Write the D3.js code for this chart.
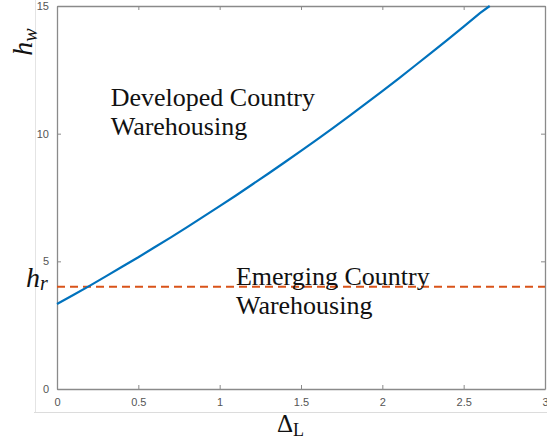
<!DOCTYPE html>
<html>
<head>
<meta charset="utf-8">
<script src="https://cdn.jsdelivr.net/npm/d3@7"></script>
<style>
  body { margin: 0; background: #fff; }
  svg { display: block; }
</style>
</head>
<body>
<svg id="chart" width="547" height="442"></svg>
<script>
// Threshold curve h_w(Δ_L) separating the two warehousing regimes
const deltaL = [0, 0.1, 0.2, 0.3, 0.4, 0.5, 0.6, 0.7, 0.8, 0.9, 1.0, 1.1, 1.2, 1.3,
                1.4, 1.5, 1.6, 1.7, 1.8, 1.9, 2.0, 2.1, 2.2, 2.3, 2.4, 2.5, 2.6, 2.66];
const hw = [3.33, 3.68, 4.04, 4.41, 4.79, 5.16, 5.55, 5.94, 6.34, 6.75, 7.16, 7.58, 8.01, 8.44,
            8.88, 9.33, 9.78, 10.24, 10.71, 11.19, 11.67, 12.16, 12.66, 13.16, 13.67, 14.19, 14.72, 15.0];
// Reference level h_r
const hr = 4;

const xTicks = [0, 0.5, 1, 1.5, 2, 2.5, 3];
const xTickLabels = ["0", "0.5", "1", "1.5", "2", "2.5", "3"];
const yTicks = [0, 5, 10, 15];
const yTickLabels = ["0", "5", "10", "15"];

const svg = d3.select("#chart");
const plotLeft = 57, plotRight = 545, plotTop = 6, plotBottom = 389;

const x = d3.scaleLinear().domain([0, 3]).range([plotLeft, plotRight]);
const y = d3.scaleLinear().domain([0, 15]).range([plotBottom, plotTop]);

// faint outer frame lines
svg.append("line").attr("x1", 35.5).attr("x2", 35.5).attr("y1", 0).attr("y2", 412)
  .attr("stroke", "#e4e4e4").attr("stroke-width", 1);
svg.append("line").attr("x1", 34).attr("x2", 547).attr("y1", 412.5).attr("y2", 412.5)
  .attr("stroke", "#dcdcdc").attr("stroke-width", 1);

const axisColor = "#8a8a8a";
const tickFont = "Liberation Sans, Arial, sans-serif";

// axes with inward ticks (box style)
const gx = svg.append("g").attr("transform", `translate(0,${plotBottom})`)
  .call(d3.axisBottom(x).tickValues(xTicks).tickFormat((d, i) => xTickLabels[i])
    .tickSizeInner(-4).tickSizeOuter(0).tickPadding(9));
const gxTop = svg.append("g").attr("transform", `translate(0,${plotTop})`)
  .call(d3.axisTop(x).tickValues(xTicks).tickFormat("").tickSizeInner(-4).tickSizeOuter(0));
const gy = svg.append("g").attr("transform", `translate(${plotLeft},0)`)
  .call(d3.axisLeft(y).tickValues(yTicks).tickFormat((d, i) => yTickLabels[i])
    .tickSizeInner(-4).tickSizeOuter(0).tickPadding(8));
const gyRight = svg.append("g").attr("transform", `translate(${plotRight},0)`)
  .call(d3.axisRight(y).tickValues(yTicks).tickFormat("").tickSizeInner(-4).tickSizeOuter(0));

[gx, gxTop, gy, gyRight].forEach(g => {
  g.selectAll(".domain").attr("stroke", axisColor).attr("stroke-width", 1.3);
  g.selectAll(".tick line").attr("stroke", axisColor).attr("stroke-width", 1);
  g.selectAll("text").attr("fill", "#555").attr("font-family", tickFont).attr("font-size", 11);
});

// h_r dashed level
svg.append("line")
  .attr("x1", x(0)).attr("x2", x(3)).attr("y1", y(hr)).attr("y2", y(hr))
  .attr("stroke", "#D95319").attr("stroke-width", 2).attr("stroke-dasharray", "8,5");

// h_w curve
const line = d3.line().x((d, i) => x(deltaL[i])).y(d => y(d));
svg.append("path").datum(hw)
  .attr("d", line)
  .attr("fill", "none").attr("stroke", "#0072BD").attr("stroke-width", 2.2);

const serif = "'Liberation Serif', 'DejaVu Serif', serif";

// region annotations
function label(lines, x0, y0) {
  const t = svg.append("text").attr("font-family", serif).attr("font-size", 26).attr("fill", "#111");
  lines.forEach((s, i) => t.append("tspan").attr("x", x0).attr("y", y0 + i * 29).text(s));
}
label(["Developed Country", "Warehousing"], x(0.33), 106);
label(["Emerging Country", "Warehousing"], x(1.1), 285);

// axis titles
const yTitle = svg.append("text").attr("font-family", serif).attr("font-size", 28)
  .attr("font-style", "italic").attr("fill", "#111")
  .attr("transform", "translate(32,42) rotate(-90)").attr("text-anchor", "middle");
yTitle.append("tspan").text("h");
yTitle.append("tspan").attr("font-size", 20).attr("dy", 5).text("w");

const hrLabel = svg.append("text").attr("font-family", serif).attr("font-size", 28)
  .attr("font-style", "italic").attr("fill", "#111").attr("x", 26).attr("y", 287);
hrLabel.append("tspan").text("h");
hrLabel.append("tspan").attr("font-size", 20).attr("dy", 3).text("r");

const xTitle = svg.append("text").attr("font-family", serif).attr("font-size", 25)
  .attr("fill", "#111").attr("x", 277).attr("y", 432);
xTitle.append("tspan").text("Δ");
xTitle.append("tspan").attr("font-size", 18).attr("dy", 4).text("L");
</script>
</body>
</html>
